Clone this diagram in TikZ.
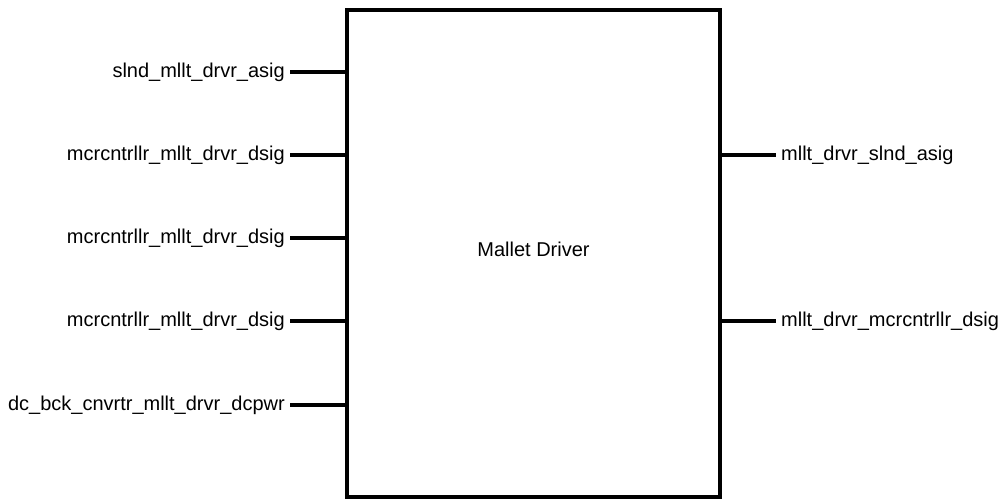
\documentclass[tikz,border=0pt]{standalone}
\usepackage{fontspec}
\setmainfont{Liberation Sans}
\begin{document}
\begin{tikzpicture}[x=1pt,y=-1pt,
  blk/.style={draw,line width=4pt,line join=miter},
  stub/.style={line width=4pt},
  lbl/.style={inner sep=0pt,font=\fontsize{20}{24}\selectfont}]
\useasboundingbox (0,0) rectangle (1005,502);
\node[blk,minimum width=373pt,minimum height=487pt,inner sep=0pt] (blk) at (533.5,253.5) {};
\node[lbl] (title) at (533.5,249) {Mallet Driver};
% left ports
\foreach \y/\t/\n in {72/slnd\_mllt\_drvr\_asig/a,155/mcrcntrllr\_mllt\_drvr\_dsig/b,238/mcrcntrllr\_mllt\_drvr\_dsig/c,321/mcrcntrllr\_mllt\_drvr\_dsig/d,405/dc\_bck\_cnvrtr\_mllt\_drvr\_dcpwr/e}{
  \coordinate (L\n) at (290,\y);
  \coordinate (B\n) at (347,\y);
  \node[lbl,anchor=east] (t\n) at (285,\y) {\t};
  \draw[stub] (L\n) -- (B\n);
}
% right ports
\foreach \y/\t/\n in {155/mllt\_drvr\_slnd\_asig/f,321/mllt\_drvr\_mcrcntrllr\_dsig/g}{
  \coordinate (R\n) at (776,\y);
  \coordinate (B\n) at (720,\y);
  \node[lbl,anchor=west] (t\n) at (781,\y) {\t};
  \draw[stub] (B\n) -- (R\n);
}
\end{tikzpicture}
\end{document}
